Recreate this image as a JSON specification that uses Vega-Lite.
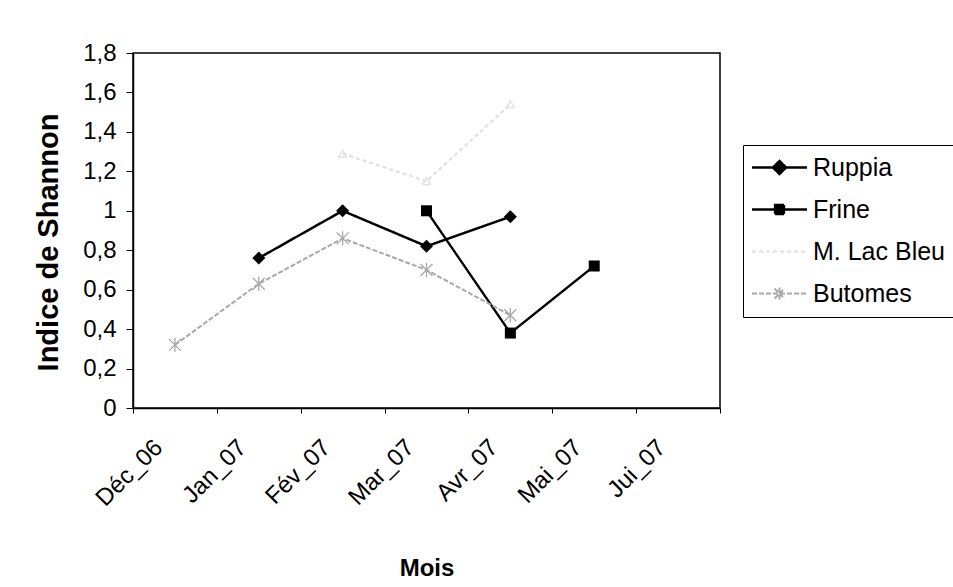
{
  "$schema": "https://vega.github.io/schema/vega-lite/v6.json",
  "width": 587,
  "height": 355,
  "autosize": "none",
  "padding": {"left": 133, "top": 53, "right": 233, "bottom": 179},
  "background": "white",
  "config": {
    "font": "Liberation Sans",
    "view": {"stroke": "black", "strokeWidth": 1.5}
  },
  "data": {
    "values": [
      {"mois": "Jan_07", "ordre": 1, "espece": "Ruppia", "indice": 0.76},
      {"mois": "Fév_07", "ordre": 2, "espece": "Ruppia", "indice": 1.0},
      {"mois": "Mar_07", "ordre": 3, "espece": "Ruppia", "indice": 0.82},
      {"mois": "Avr_07", "ordre": 4, "espece": "Ruppia", "indice": 0.97},
      {"mois": "Mar_07", "ordre": 3, "espece": "Frine", "indice": 1.0},
      {"mois": "Avr_07", "ordre": 4, "espece": "Frine", "indice": 0.38},
      {"mois": "Mai_07", "ordre": 5, "espece": "Frine", "indice": 0.72},
      {"mois": "Fév_07", "ordre": 2, "espece": "M. Lac Bleu", "indice": 1.29},
      {"mois": "Mar_07", "ordre": 3, "espece": "M. Lac Bleu", "indice": 1.15},
      {"mois": "Avr_07", "ordre": 4, "espece": "M. Lac Bleu", "indice": 1.54},
      {"mois": "Déc_06", "ordre": 0, "espece": "Butomes", "indice": 0.32},
      {"mois": "Jan_07", "ordre": 1, "espece": "Butomes", "indice": 0.63},
      {"mois": "Fév_07", "ordre": 2, "espece": "Butomes", "indice": 0.86},
      {"mois": "Mar_07", "ordre": 3, "espece": "Butomes", "indice": 0.7},
      {"mois": "Avr_07", "ordre": 4, "espece": "Butomes", "indice": 0.47}
    ]
  },
  "encoding": {
    "x": {
      "field": "mois",
      "type": "ordinal",
      "sort": ["Déc_06", "Jan_07", "Fév_07", "Mar_07", "Avr_07", "Mai_07", "Jui_07"],
      "scale": {
        "domain": ["Déc_06", "Jan_07", "Fév_07", "Mar_07", "Avr_07", "Mai_07", "Jui_07"],
        "paddingInner": 0,
        "paddingOuter": 0
      },
      "axis": {
        "title": "Mois",
        "titleFontSize": 24,
        "titleFontWeight": "bold",
        "titleColor": "black",
        "titleBaseline": "top",
        "titleY": 148,
        "labelAngle": -45,
        "labelFontSize": 24,
        "labelColor": "black",
        "labelPadding": 22,
        "labelOffset": -25,
        "tickBand": "extent",
        "tickSize": 5,
        "tickColor": "black",
        "domainColor": "black",
        "domainWidth": 1.5,
        "grid": false
      }
    },
    "y": {
      "field": "indice",
      "type": "quantitative",
      "scale": {"domain": [0, 1.8], "nice": false},
      "axis": {
        "title": "Indice de Shannon",
        "titleFontSize": 29,
        "titleFontWeight": "bold",
        "titleColor": "black",
        "titleBaseline": "middle",
        "titleX": -85,
        "titleY": 189,
        "values": [0, 0.2, 0.4, 0.6, 0.8, 1, 1.2, 1.4, 1.6, 1.8],
        "labelExpr": "replace(format(datum.value, '.1~f'), '.', ',')",
        "labelFontSize": 24,
        "labelColor": "black",
        "labelPadding": 10,
        "tickSize": 7,
        "tickColor": "black",
        "domainColor": "black",
        "domainWidth": 1.5,
        "grid": false
      }
    }
  },
  "layer": [
    {
      "mark": {"type": "line"},
      "encoding": {
        "order": {"field": "ordre", "type": "quantitative"},
        "color": {
          "field": "espece",
          "type": "nominal",
          "scale": {
            "domain": ["Ruppia", "Frine", "M. Lac Bleu", "Butomes"],
            "range": ["#000000", "#000000", "#e0e0e0", "#a8a8a8"]
          },
          "legend": {
            "title": null,
            "orient": "none",
            "legendX": 610,
            "legendY": 92,
            "direction": "vertical",
            "strokeColor": "black",
            "fillColor": "white",
            "padding": 10,
            "labelFontSize": 25,
            "labelColor": "black",
            "labelFont": "Liberation Sans",
            "symbolSize": 100,
            "symbolStrokeWidth": 2,
            "symbolOffset": 14,
            "labelOffset": 21,
            "rowPadding": 16,
            "encode": {
              "symbols": {
                "update": {
                  "shape": {"signal": "datum.value === 'Ruppia' ? 'M-5.5,0H5.5M0,-1.3L1.3,0L0,1.3L-1.3,0Z' : datum.value === 'Frine' ? 'M-5.5,0H5.5M-0.9,-0.9H0.9V0.9H-0.9Z' : datum.value === 'Butomes' ? 'M-5.5,0H5.5M-1,-1L1,1M-1,1L1,-1M0,-1.2V1.2' : 'M-5.5,0H5.5'"},
                  "fill": {"signal": "datum.value === 'Ruppia' || datum.value === 'Frine' ? 'black' : 'transparent'"},
                  "strokeWidth": {"signal": "datum.value === 'Ruppia' || datum.value === 'Frine' ? 2 : 1.3"},
                  "strokeDash": {"signal": "datum.value === 'Butomes' ? [4, 2] : datum.value === 'M. Lac Bleu' ? [4, 3] : [1, 0]"}
                }
              }
            }
          }
        },
        "strokeWidth": {
          "field": "espece",
          "type": "nominal",
          "scale": {
            "domain": ["Ruppia", "Frine", "M. Lac Bleu", "Butomes"],
            "range": [2.5, 2, 1.2, 1.5]
          },
          "legend": null
        },
        "strokeDash": {
          "field": "espece",
          "type": "nominal",
          "scale": {
            "domain": ["Ruppia", "Frine", "M. Lac Bleu", "Butomes"],
            "range": [[1, 0], [1, 0], [4, 3], [5, 2]]
          },
          "legend": null
        }
      }
    },
    {
      "transform": [{"filter": "datum.espece === 'Ruppia'"}],
      "mark": {"type": "point", "shape": "diamond", "filled": true, "color": "#000000", "opacity": 1, "size": 169}
    },
    {
      "transform": [{"filter": "datum.espece === 'Frine'"}],
      "mark": {"type": "point", "shape": "square", "filled": true, "color": "#000000", "opacity": 1, "size": 121}
    },
    {
      "transform": [{"filter": "datum.espece === 'M. Lac Bleu'"}],
      "mark": {"type": "point", "shape": "triangle-up", "filled": false, "color": "#e0e0e0", "opacity": 1, "size": 64, "strokeWidth": 1.2}
    },
    {
      "transform": [{"filter": "datum.espece === 'Butomes'"}],
      "mark": {"type": "point", "shape": "M-1,-1L1,1M-1,1L1,-1M0,-1.2V1.2", "filled": false, "color": "#a8a8a8", "opacity": 1, "size": 144, "strokeWidth": 1.3}
    }
  ]
}
